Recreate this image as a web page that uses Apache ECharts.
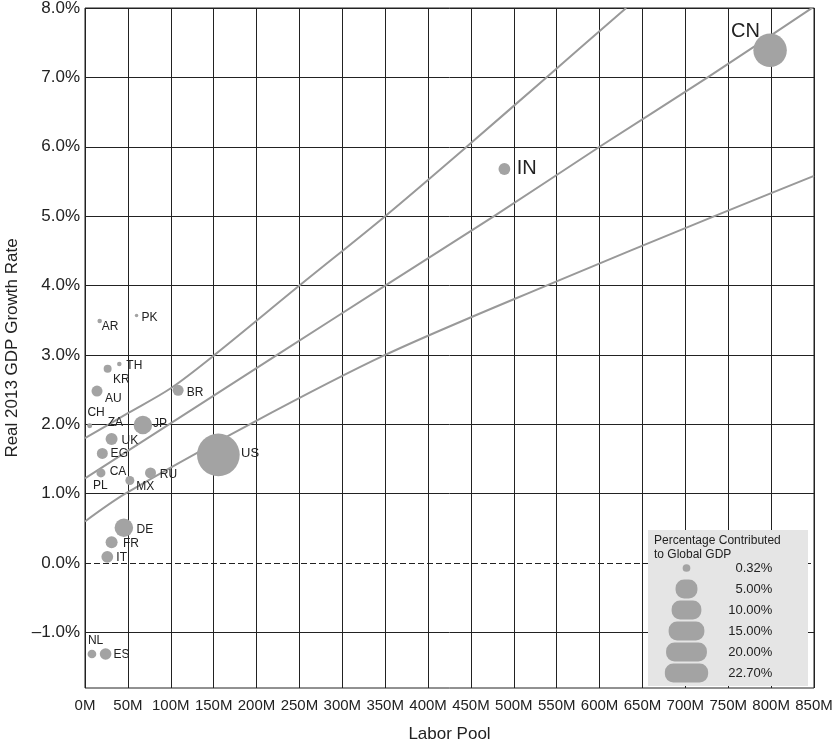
<!DOCTYPE html>
<html><head><meta charset="utf-8">
<script src="https://cdn.jsdelivr.net/npm/echarts@6/dist/echarts.min.js"></script>
<style>html,body{margin:0;padding:0;background:#fff}#c{width:833px;height:744px}</style>
</head><body><div id="c"></div>
<script>
// ---------- data ----------
const countries  = ['CN','IN','US','JP','DE','BR','UK','FR','IT','RU','PL','CA','EG','AU','KR','TH','AR','PK','CH','ZA','MX','NL','ES'];
const laborPool  = [798.8,489,155.5,67.5,45.3,108.6,31,31,26,76.4,18.6,18.6,20.2,14,26.4,40,17.1,60.1,5.5,5.5,52.3,8.1,24];
const growthRate = [7.39,5.68,1.56,1.99,0.51,2.49,1.79,0.30,0.09,1.30,1.30,1.30,1.58,2.48,2.80,2.87,3.49,3.57,1.98,1.98,1.19,-1.31,-1.31];
const gdpShare   = [13.0,1.1,22.0,3.4,3.4,0.91,1.15,1.15,1.1,0.91,0.1,0.52,0.91,0.91,0.36,0.036,0.036,0.005,0.06,0.02,0.52,0.47,1.05];

const upperBand = [[0,1.80],[50,2.16],[100,2.52],[150,2.99],[250,4.00],[350,5.00],[445,6.00],[538,7.00],[631,8.00]];
const fitLine   = [[0,1.22],[224,3.00],[350,4.00],[477,5.00],[600,6.00],[726,7.00],[850,8.02]];
const lowerBand = [[0,0.60],[47,1.00],[192,2.00],[350,3.00],[538,4.00],[734,5.00],[850,5.58]];

const yTickValues = [-1,0,1,2,3,4,5,6,7,8];
const legendShares = [0.32,5,10,15,20,22.7];

// ---------- styling helpers ----------
const sizeOf = p => 2.9 + 8.48 * Math.sqrt(p);
const labelOffset = {CN:[-39,-19], IN:[12.3,0], US:[22.7,-1.4], JP:[10,-1.3], DE:[12.7,1.6], BR:[8.6,2], UK:[10,2],
  FR:[11.3,1.3], IT:[9,1], RU:[9.3,1.7], PL:[-8,12.3], CA:[8.7,-1.7], EG:[8.3,0.3], AU:[8,7.3], KR:[5.3,11],
  TH:[7,1.7], AR:[2,5.4], PK:[5,2.4], CH:[-2.3,-12.7], ZA:[18,-2.7], MX:[6.4,6.6], NL:[-4,-13.3], ES:[8,0.7]};
const bigLabel = {CN:true, IN:true};
const BUB = '#a3a3a3', INK = '#222', LINE = '#999';
const FONT = '"Liberation Sans", Arial, Helvetica, sans-serif';

const bubbleData = countries.map((c,i) => {
  const d = sizeOf(gdpShare[i]);
  const off = labelOffset[c];
  return {
    name: c, value: [laborPool[i], growthRate[i]], symbolSize: d,
    label: { show: true, formatter: c, position: [d/2 + off[0], d/2 + off[1]],
             align: 'left', verticalAlign: 'middle', color: INK,
             fontSize: bigLabel[c] ? 20 : (c === 'US' ? 13 : 12) }
  };
});

const chart = echarts.init(document.getElementById('c'), null, {renderer: 'canvas'});
chart.setOption({
  animation: false,
  textStyle: { fontFamily: FONT },
  grid: [
    { left: 85, top: 8, width: 729, height: 680, show: true, borderColor: INK, borderWidth: 1,
      backgroundColor: 'transparent', containLabel: false, outerBoundsMode: 'none' },
    { left: 648, top: 557.5, width: 160, height: 126, show: false, containLabel: false, outerBoundsMode: 'none' }
  ],
  xAxis: [
    { type: 'value', gridIndex: 0, min: 0, max: 850, interval: 50,
      axisLine: { show: false }, axisTick: { show: false },
      splitLine: { show: true, lineStyle: { color: INK, width: 1 } },
      axisLabel: { formatter: v => v + 'M', fontSize: 15, color: INK, margin: 10 },
      name: 'Labor Pool', nameLocation: 'middle', nameGap: 38,
      nameTextStyle: { fontSize: 17, color: INK } },
    { type: 'value', gridIndex: 1, min: 0, max: 1, show: false }
  ],
  yAxis: [
    { type: 'value', gridIndex: 0, min: -1.8, max: 8,
      axisLine: { show: false }, axisTick: { show: false }, splitLine: { show: false },
      axisLabel: { customValues: yTickValues, fontSize: 17, color: INK, margin: 5,
        formatter: v => (v < 0 ? '\u2013' + Math.abs(v).toFixed(1) : v.toFixed(1)) + '%' },
      name: 'Real 2013 GDP Growth Rate', nameLocation: 'middle', nameGap: 60,
      nameTextStyle: { fontSize: 17, color: INK } },
    { type: 'category', gridIndex: 1, inverse: true, position: 'left', offset: -124.3, z: 60,
      data: legendShares.map(s => s.toFixed(2) + '%'),
      axisLine: { show: false }, axisTick: { show: false }, splitLine: { show: false },
      axisLabel: { fontSize: 13, color: INK, margin: 0 } }
  ],
  graphic: [
    { type: 'rect', z: 50, shape: { x: 648, y: 530, width: 160, height: 156 }, style: { fill: '#e5e5e5' } },
    { type: 'text', z: 60, left: 654, top: 534,
      style: { text: 'Percentage Contributed\nto Global GDP', fontSize: 12, lineHeight: 13.5, fill: INK, fontFamily: FONT } }
  ],
  series: [
    { type: 'line', xAxisIndex: 0, yAxisIndex: 0, data: [], silent: true, z: 1,
      markLine: { silent: true, z: 1, symbol: ['none','none'], label: { show: false }, animation: false,
        data: yTickValues.map(v => ({ yAxis: v, lineStyle: { color: INK, width: 1, type: v === 0 ? [6,3] : 'solid' } })) } },
    { type: 'line', data: upperBand, showSymbol: false, smooth: 0.3, silent: true, z: 2,
      lineStyle: { color: LINE, width: 2 } },
    { type: 'line', data: fitLine, showSymbol: false, smooth: 0.3, silent: true, z: 2,
      lineStyle: { color: LINE, width: 2 } },
    { type: 'line', data: lowerBand, showSymbol: false, smooth: 0.3, silent: true, z: 2,
      lineStyle: { color: LINE, width: 2 } },
    { type: 'scatter', data: bubbleData, z: 3, itemStyle: { color: BUB, opacity: 1 } },
    { type: 'custom', xAxisIndex: 1, yAxisIndex: 1, z: 60, silent: true,
      data: legendShares.map((s, i) => [0.2406, i, s]),
      renderItem: (params, api) => {
        const p = api.coord([api.value(0), api.value(1)]);
        const w = sizeOf(api.value(2));
        const h = Math.min(w, api.size([0, 1])[1] - 2);
        const r = Math.min(h / 2, w / 2, 8.5);
        return { type: 'rect', shape: { x: p[0] - w / 2, y: p[1] - h / 2, width: w, height: h, r: r },
                 style: { fill: BUB } };
      } }
  ]
});
</script></body></html>
